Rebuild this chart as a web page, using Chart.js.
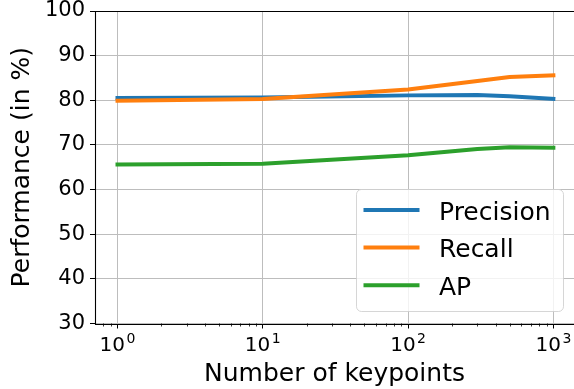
<!DOCTYPE html>
<html>
<head>
<meta charset="utf-8">
<script src="https://cdn.jsdelivr.net/npm/chart.js@4"></script>
<style>
  html, body { margin: 0; padding: 0; background: #ffffff; }
  #wrap { width: 574px; height: 389px; }
</style>
</head>
<body>
<div id="wrap"><canvas id="c" width="574" height="389"></canvas></div>
<script>
// Performance versus number of keypoints
const keypoints = [1, 10, 100, 300, 500, 1000];
const precision = [80.5, 80.6, 81.1, 81.2, 80.9, 80.3];
const recall    = [79.9, 80.3, 82.4, 84.3, 85.2, 85.6];
const ap        = [65.6, 65.8, 67.7, 69.1, 69.5, 69.4];

const seriesNames  = ['Precision', 'Recall', 'AP'];
const seriesValues = [precision, recall, ap];
const seriesColors = ['#1f77b4', '#ff7f0e', '#2ca02c'];

const xTickValues    = [1, 10, 100, 1000];
const xTickBase      = '10';
const xTickExponents = ['0', '1', '2', '3'];
const yTickValues    = [30, 40, 50, 60, 70, 80, 90, 100];

const xTitle = 'Number of keypoints';
const yTitle = 'Performance (in %)';

const FONT = "'DejaVu Sans', sans-serif";

// visible part of the log axis (in decades)
const xMin = Math.pow(10, -0.15);
const xMax = Math.pow(10, 3.142);

const datasets = seriesNames.map((name, i) => ({
  label: name,
  data: keypoints.map((k, j) => ({ x: k, y: seriesValues[i][j] })),
  borderColor: seriesColors[i],
  backgroundColor: seriesColors[i],
  borderWidth: 4,
  borderCapStyle: 'square',
  borderJoinStyle: 'round',
  pointRadius: 0,
  pointHoverRadius: 0,
  tension: 0,
  fill: false,
  order: seriesNames.length - i   // later series painted on top
}));

// spines, minor ticks, superscript tick labels and the legend box
const decorations = {
  id: 'decorations',
  afterDatasetsDraw(chart) {
    const ctx = chart.ctx;
    const a = chart.chartArea;
    const xs = chart.scales.x;
    ctx.save();

    // minor ticks on the log axis
    ctx.strokeStyle = '#000';
    ctx.lineWidth = 0.8;
    ctx.beginPath();
    for (let k = -1; k <= 3; k++) {
      for (let m = 2; m <= 9; m++) {
        const v = m * Math.pow(10, k);
        if (v < xMin || v > xMax) continue;
        const px = Math.round(xs.getPixelForValue(v)) + 0.5;
        ctx.moveTo(px, a.bottom);
        ctx.lineTo(px, a.bottom + 3);
      }
    }
    ctx.stroke();

    // left, top and bottom spines
    const L = Math.round(a.left) + 0.5;
    const T = Math.round(a.top) + 0.5;
    const B = Math.round(a.bottom) + 0.5;
    ctx.strokeStyle = '#000';
    ctx.lineWidth = 1.1;
    ctx.beginPath();
    ctx.moveTo(a.right + 2, T);
    ctx.lineTo(L, T);
    ctx.lineTo(L, B);
    ctx.lineTo(a.right + 2, B);
    ctx.stroke();

    // x tick labels: 10 with a raised exponent
    ctx.fillStyle = '#000';
    ctx.textBaseline = 'alphabetic';
    ctx.textAlign = 'left';
    xTickValues.forEach((v, i) => {
      const px = xs.getPixelForValue(v);
      ctx.font = '20px ' + FONT;
      const wb = ctx.measureText(xTickBase).width;
      ctx.font = '14px ' + FONT;
      const we = ctx.measureText(xTickExponents[i]).width;
      const gap = 1.5;
      const x0 = px - (wb + gap + we) / 2;
      ctx.font = '20px ' + FONT;
      ctx.fillText(xTickBase, x0, a.bottom + 27.5);
      ctx.font = '14px ' + FONT;
      ctx.fillText(xTickExponents[i], x0 + wb + gap, a.bottom + 19.3);
    });
    ctx.restore();
  },
  afterDraw(chart) {
    const ctx = chart.ctx;
    const a = chart.chartArea;
    ctx.save();
    const w = 207, h = 122;
    const bx = 356;
    const by = a.bottom - 12.5 - h;
    ctx.beginPath();
    ctx.roundRect(bx + 0.5, by + 0.5, w, h, 5);
    ctx.fillStyle = 'rgba(255,255,255,0.8)';
    ctx.fill();
    ctx.strokeStyle = 'rgba(204,204,204,0.8)';
    ctx.lineWidth = 1;
    ctx.stroke();

    ctx.font = '25px ' + FONT;
    ctx.textAlign = 'left';
    ctx.textBaseline = 'alphabetic';
    seriesNames.forEach((name, i) => {
      const ly = by + 21 + i * 37.6;
      ctx.beginPath();
      ctx.strokeStyle = seriesColors[i];
      ctx.lineWidth = 4;
      ctx.lineCap = 'butt';
      ctx.moveTo(bx + 7.5, ly);
      ctx.lineTo(bx + 63.5, ly);
      ctx.stroke();
      ctx.fillStyle = '#000';
      ctx.fillText(name, bx + 83, ly + 9.5);
    });
    ctx.restore();
  }
};

new Chart(document.getElementById('c'), {
  type: 'line',
  data: { datasets },
  options: {
    responsive: false,
    animation: false,
    devicePixelRatio: 1,
    layout: { padding: { top: 11, left: 0, right: 0, bottom: 0 } },
    plugins: {
      legend: { display: false },
      tooltip: { enabled: false },
      title: { display: false }
    },
    events: [],
    scales: {
      x: {
        type: 'logarithmic',
        min: xMin,
        max: xMax,
        afterBuildTicks(scale) {
          scale.ticks = xTickValues.map(v => ({ value: v, major: true }));
        },
        afterFit(scale) {
          scale.height = 65.5;
          scale.paddingLeft = 0;
          scale.paddingRight = 0;
        },
        ticks: { display: false },
        grid: {
          color: '#bdbdbd',
          lineWidth: 1,
          tickColor: '#000',
          tickLength: 5,
          tickWidth: 1
        },
        border: { display: false },
        title: {
          display: true,
          text: xTitle,
          color: '#000',
          font: { family: FONT, size: 25 },
          padding: { top: 0, bottom: 0 }
        }
      },
      y: {
        type: 'linear',
        min: 30,
        max: 100,
        afterBuildTicks(scale) {
          scale.ticks = yTickValues.map(v => ({ value: v }));
        },
        afterFit(scale) {
          scale.width = 95;
          scale.paddingTop = 0;
          scale.paddingBottom = 0;
        },
        ticks: {
          color: '#000',
          font: { family: FONT, size: 21 },
          padding: 5
        },
        grid: {
          color: '#bdbdbd',
          lineWidth: 1,
          tickColor: '#000',
          tickLength: 5,
          tickWidth: 1
        },
        border: { display: false },
        title: {
          display: true,
          text: yTitle,
          color: '#000',
          font: { family: FONT, size: 25 },
          padding: { top: 7, bottom: 0 }
        }
      }
    }
  },
  plugins: [decorations]
});
</script>
</body>
</html>
